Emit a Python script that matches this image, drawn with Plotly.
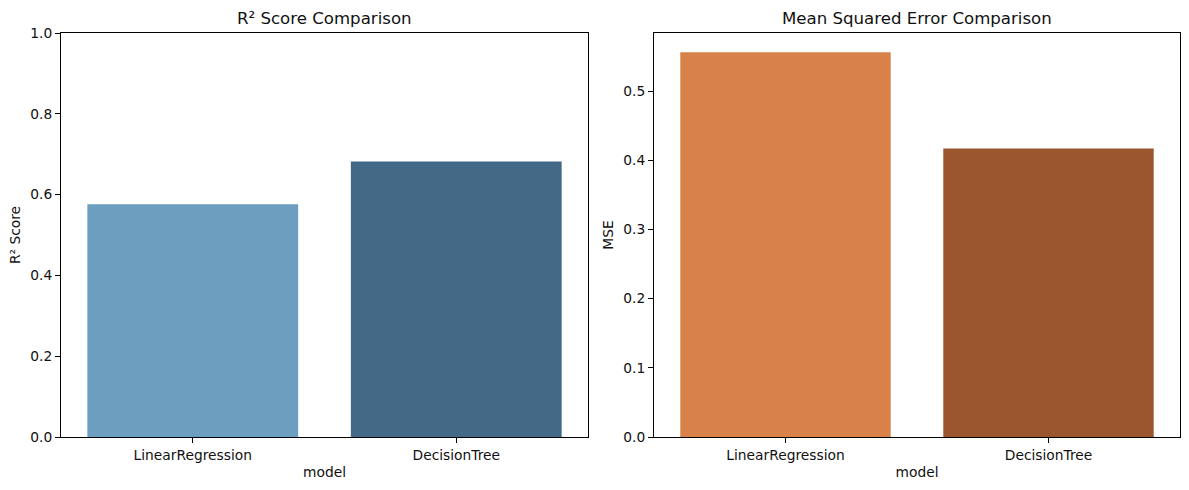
import plotly.graph_objects as go

models = ["LinearRegression", "DecisionTree"]
r2_values = [0.576, 0.682]
mse_values = [0.556, 0.417]
r2_colors = ["#6C9EBF", "#436987"]
mse_colors = ["#D88249", "#9A562F"]
r2_ticks = [0.0, 0.2, 0.4, 0.6, 0.8, 1.0]
mse_ticks = [0.0, 0.1, 0.2, 0.3, 0.4, 0.5]

W, H = 1189, 490
ML, MR, MT, MB = 61, 9, 33, 53
PW, PH = W - ML - MR, H - MT - MB
fig = go.Figure()
fig.add_trace(go.Bar(x=models, y=r2_values, marker=dict(color=r2_colors, line_width=0), width=0.8, xaxis="x", yaxis="y", showlegend=False))
fig.add_trace(go.Bar(x=models, y=mse_values, marker=dict(color=mse_colors, line_width=0), width=0.8, xaxis="x2", yaxis="y2", showlegend=False))

font = dict(family="DejaVu Sans", size=13.8, color="#111111")
tfont = dict(family="DejaVu Sans", size=16.6, color="#111111")
def xa(l, r, anchor):
    return dict(domain=[(l - ML) / PW, (r - ML) / PW], anchor=anchor, range=[-0.5, 1.5], type="category", showline=True, linecolor="black", linewidth=1,
                mirror=True, ticks="outside", ticklen=5, tickcolor="black", showgrid=False, automargin=False,
                title=dict(text="model", standoff=5, font=font), tickfont=font)
def ya(anchor, rng, ticks, title):
    return dict(domain=[0, 1], anchor=anchor, range=rng, tickvals=ticks, tickformat=".1f", showline=True, linecolor="black", linewidth=1,
                mirror=True, ticks="outside", ticklen=5, tickcolor="black", showgrid=False, zeroline=False, automargin=False,
                title=dict(text=title, standoff=6, font=font), tickfont=font)

fig.update_layout(
    width=W, height=H, margin=dict(l=ML, r=MR, t=MT, b=MB, autoexpand=False), paper_bgcolor="white", plot_bgcolor="white",
    font=font,
    xaxis=xa(61, 588, "y"), yaxis=ya("x", [0, 1], r2_ticks, "R² Score"),
    xaxis2=xa(654, 1180, "y2"), yaxis2=ya("x2", [0, 0.584], mse_ticks, "MSE"),
    annotations=[
        dict(text="R² Score Comparison", x=(324.5 - ML) / PW, y=1 + 3 / PH, xref="paper", yref="paper", showarrow=False, xanchor="center", yanchor="bottom", font=tfont),
        dict(text="Mean Squared Error Comparison", x=(917 - ML) / PW, y=1 + 3 / PH, xref="paper", yref="paper", showarrow=False, xanchor="center", yanchor="bottom", font=tfont),
    ],
)
fig.write_html("out.html", post_script="document.body.style.margin='0';", config={"displayModeBar": False})
